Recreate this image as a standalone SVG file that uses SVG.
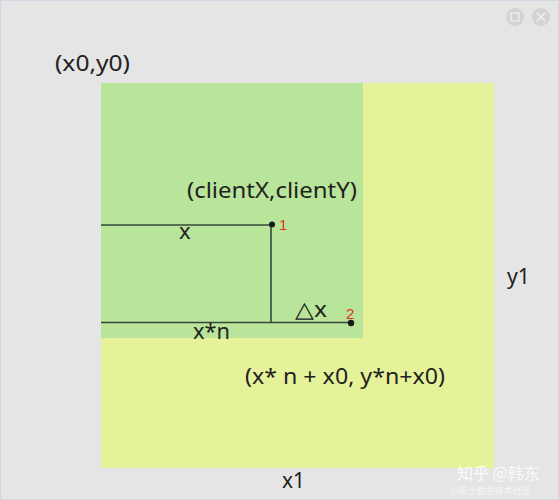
<svg xmlns="http://www.w3.org/2000/svg" width="559" height="500" viewBox="0 0 559 500">
<style>
.t{font-family:"Noto Sans","Open Sans","Liberation Sans",sans-serif;fill:#222;font-size:22px}
.ln{stroke:#34473a;stroke-width:1.6;fill:none}
.red{font-family:"Liberation Sans",sans-serif;fill:#e0302a;font-size:15px}
</style>
<rect x="0" y="0" width="559" height="500" fill="#e5e5e5"/>
<rect x="0.5" y="0.5" width="558" height="499" fill="none" stroke="#cfd8e3" stroke-width="1"/>
<g id="toolbar">
<circle cx="515" cy="17" r="9" fill="#d3d3d3"/>
<rect x="511" y="13" width="8" height="8" fill="none" stroke="#f2f2f2" stroke-width="1.2"/>
<circle cx="541" cy="17" r="9" fill="#d3d3d3"/>
<path d="M537 13 L545 21 M545 13 L537 21" stroke="#f2f2f2" stroke-width="1.4"/>
</g>
<g id="outer">
<rect x="101" y="83" width="393" height="385" fill="#e6f29a"/>
</g>
<g id="inner">
<rect x="101" y="83" width="262" height="255" fill="#b9e59b"/>
</g>
<g id="connectors">
<line class="ln" x1="101" y1="225" x2="272" y2="225"/>
<line class="ln" x1="271" y1="225" x2="271" y2="322.5"/>
<line class="ln" x1="101" y1="322.5" x2="351" y2="322.5"/>
<circle cx="272" cy="224.5" r="3" fill="#1a1a1a"/>
<circle cx="351" cy="323" r="3.2" fill="#1a1a1a"/>
</g>
<g id="labels">
<text class="t" x="55" y="71" textLength="75" lengthAdjust="spacingAndGlyphs">(x0,y0)</text>
<text class="t" x="187" y="198" textLength="170" lengthAdjust="spacingAndGlyphs">(clientX,clientY)</text>
<text class="t" x="179" y="239">x</text>
<text class="t" x="193" y="339" textLength="37" lengthAdjust="spacingAndGlyphs">x*n</text>
<text class="t" x="295" y="317" textLength="32" lengthAdjust="spacingAndGlyphs">△x</text>
<text class="t" x="507" y="284" textLength="23" lengthAdjust="spacingAndGlyphs">y1</text>
<text class="t" x="245" y="384" textLength="200" lengthAdjust="spacingAndGlyphs">(x* n + x0, y*n+x0)</text>
<text class="t" x="282" y="488" textLength="23" lengthAdjust="spacingAndGlyphs">x1</text>
<text class="red" x="279" y="230">1</text>
<text class="red" x="346" y="319">2</text>
</g>
<g id="watermark">
<text x="457" y="479" font-family="'Noto Sans CJK SC',sans-serif" font-size="16" fill="#ffffff" fill-opacity="0.85">知乎 @韩东</text>
<text x="450" y="494" font-family="'Noto Sans CJK SC',sans-serif" font-size="9" fill="#ffffff" fill-opacity="0.6">@稀土掘金技术社区</text>
</g>
</svg>
